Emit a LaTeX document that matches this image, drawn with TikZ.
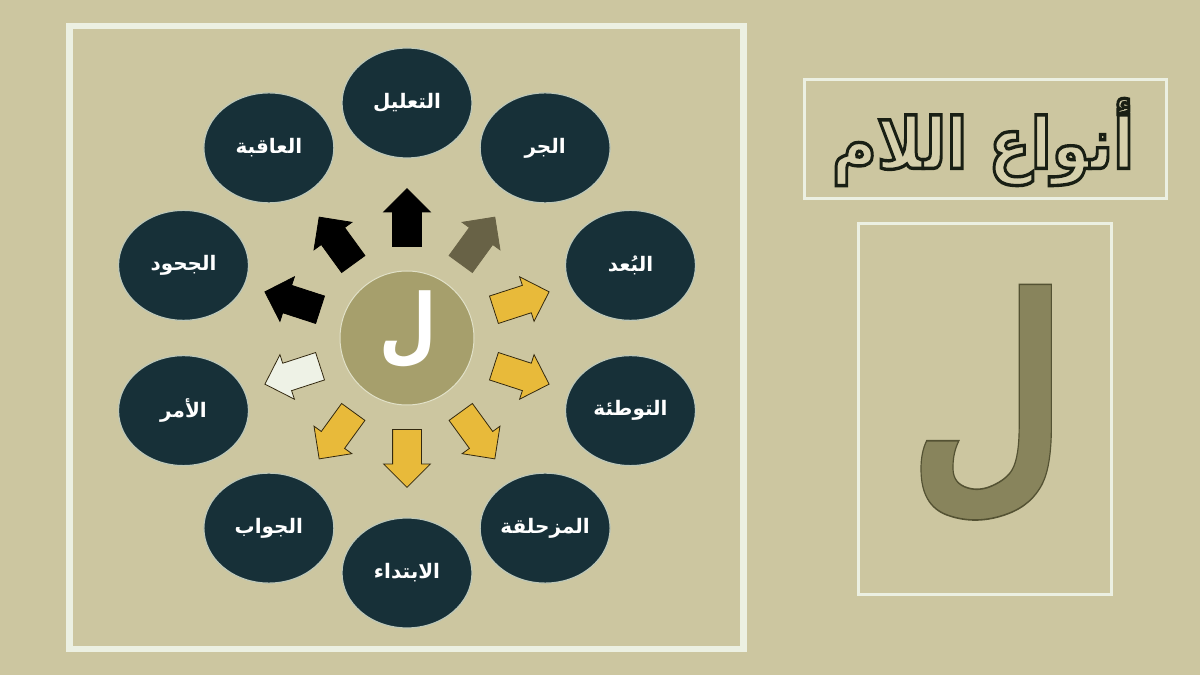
\documentclass[tikz,border=0pt]{standalone}
\usepackage{fontspec}
\usepackage{tikz}
\usetikzlibrary{shapes.geometric,shapes.arrows,calc}
\TeXXeTstate=1
\newfontfamily\arabicfont[Script=Arabic]{DejaVu Sans}
\newcommand{\artext}[1]{\beginR#1\endR}

\definecolor{bgkhaki}{RGB}{204,198,160}
\definecolor{framewhite}{RGB}{236,240,226}
\definecolor{kindfill}{RGB}{23,48,56}
\definecolor{kindedge}{RGB}{190,200,185}
\definecolor{lamfill}{RGB}{166,159,108}
\definecolor{lamedge}{RGB}{225,225,200}
\definecolor{goldarrow}{RGB}{232,186,58}
\definecolor{olivearrow}{RGB}{104,98,70}
\definecolor{lightarrow}{RGB}{238,242,230}
\definecolor{arrowedge}{RGB}{50,40,15}
\definecolor{letterolive}{RGB}{136,132,92}
\definecolor{titlefill}{RGB}{214,208,172}

\tikzset{
  kind/.style={ellipse, draw=kindedge, line width=0.9pt, fill=kindfill,
    minimum width=97.5pt, minimum height=82.5pt, inner sep=0pt, text=white,
    font=\arabicfont\bfseries\fontsize{15}{18}\selectfont},
  blk/.style={single arrow, draw=arrowedge, line width=0.6pt, inner xsep=0pt,
    inner ysep=10.5pt, single arrow head extend=6.75pt, minimum height=43.5pt,
    anchor=west},
}

\begin{document}
\begin{tikzpicture}[x=0.75pt,y=0.75pt]
            \fill[bgkhaki] (0,0) rectangle (1200,675);
            \useasboundingbox (0,0) rectangle (1200,675);

            % frames
            \draw[framewhite, line width=5pt] (69.5,26) rectangle (743.5,649);
            \draw[framewhite, line width=2.25pt] (804,476) rectangle (1166,595);
            \draw[framewhite, line width=2.25pt] (858,80) rectangle (1111,451);

            % centre
            \node[circle, minimum size=100.5pt, inner sep=0pt, fill=lamfill, draw=lamedge, line width=0.75pt] (lam) at (407,337) {};
            \node[text=white, xscale=0.8, font=\arabicfont\bfseries\fontsize{62}{62}\selectfont] (lamtxt) at (408,345) {\artext{ل}};

            % arrows
            \node[blk, fill=black, draw=black, rotate=90] (a1) at ($(lam)+(90:91)$) {};
            \node[blk, fill=olivearrow, draw=olivearrow, rotate=54] (a2) at ($(lam)+(54:91)$) {};
            \node[blk, fill=goldarrow, rotate=18] (a3) at ($(lam)+(18:91)$) {};
            \node[blk, fill=goldarrow, rotate=-18] (a4) at ($(lam)+(-18:91)$) {};
            \node[blk, fill=goldarrow, rotate=-54] (a5) at ($(lam)+(-54:91)$) {};
            \node[blk, fill=goldarrow, rotate=-90] (a6) at ($(lam)+(-90:91)$) {};
            \node[blk, fill=goldarrow, rotate=-126] (a7) at ($(lam)+(-126:91)$) {};
            \node[blk, fill=lightarrow, rotate=-162] (a8) at ($(lam)+(-162:91)$) {};
            \node[blk, fill=black, draw=black, rotate=162] (a9) at ($(lam)+(162:91)$) {};
            \node[blk, fill=black, draw=black, rotate=126] (a10) at ($(lam)+(126:91)$) {};

            % kinds
            \node[kind] (taalil) at ($(lam)+(90:235)$) {\artext{التعليل}};
            \node[kind] (jarr) at ($(lam)+(54:235)$) {\artext{الجر}};
            \node[kind] (buad) at ($(lam)+(18:235)$) {\artext{البُعد}};
            \node[kind] (tawtia) at ($(lam)+(-18:235)$) {\artext{التوطئة}};
            \node[kind] (muzah) at ($(lam)+(-54:235)$) {\artext{المزحلقة}};
            \node[kind] (ibtida) at ($(lam)+(-90:235)$) {\artext{الابتداء}};
            \node[kind] (jawab) at ($(lam)+(-126:235)$) {\artext{الجواب}};
            \node[kind] (amr) at ($(lam)+(-162:235)$) {\artext{الأمر}};
            \node[kind] (juhud) at ($(lam)+(162:235)$) {\artext{الجحود}};
            \node[kind] (aqiba) at ($(lam)+(126:235)$) {\artext{العاقبة}};

            % title and letter
            \node[text=titlefill, yscale=1.15, font=\arabicfont\bfseries\fontsize{46}{50}\selectfont] (title) at (983,533) {\special{pdf:code 0.1 0.12 0.08 RG 2.2 w 2 Tr}\artext{أنواع اللام}\special{pdf:code 0 Tr}};
            \node[text=letterolive, xscale=0.72, font=\arabicfont\bfseries\fontsize{192}{192}\selectfont] (biglam) at (988,270) {\special{pdf:code 0.33 0.32 0.2 RG 1.2 w 2 Tr}\artext{ل}\special{pdf:code 0 Tr}};
\end{tikzpicture}
\end{document}
